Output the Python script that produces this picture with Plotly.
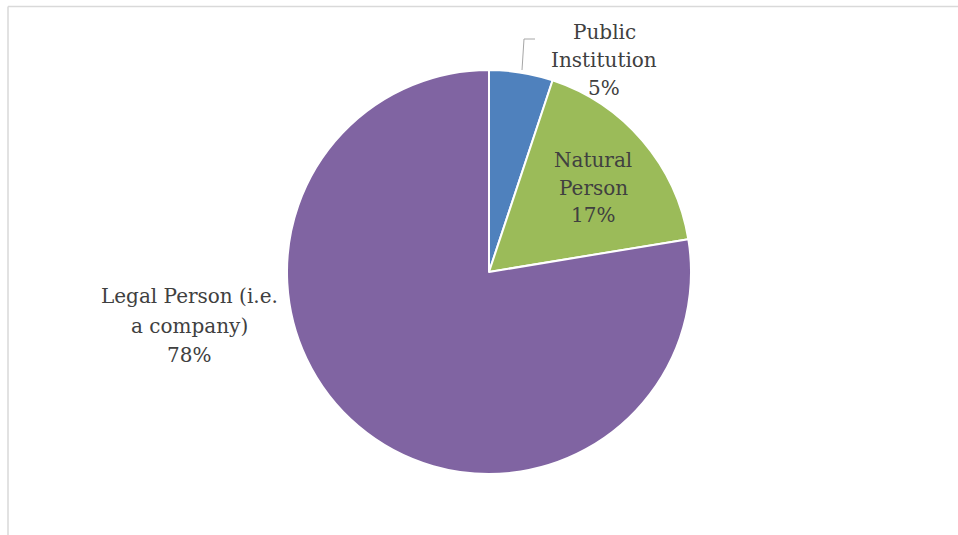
import plotly.graph_objects as go

# Data
categories = ["Public Institution", "Natural Person", "Legal Person (i.e. a company)"]
shares = [5.1, 17.3, 77.6]
label_lines = [["Public", "Institution"], ["Natural", "Person"], ["Legal Person (i.e.", "a company)"]]
colors = ["#4F81BD", "#9BBB59", "#8064A2"]

W, H = 958, 535
cx, cy, r = 489, 272, 202

fig = go.Figure(go.Pie(
    labels=categories,
    values=shares,
    sort=False,
    direction="clockwise",
    rotation=0,
    textinfo="none",
    hoverinfo="label+percent",
    marker=dict(colors=colors, line=dict(color="white", width=2)),
    domain=dict(x=[(cx - r) / W, (cx + r) / W], y=[1 - (cy + r) / H, 1 - (cy - r) / H]),
    showlegend=False,
))

total = sum(shares)
# label anchor positions (pixels, centre of first line) and line spacing
anchors = [(604, 32), (593, 160), (189, 296)]
spacing = [28, 27.5, 29.5]
annotations = []
for i, (lines, val) in enumerate(zip(label_lines, shares)):
    ax, ay = anchors[i]
    full = lines + [f"{round(val / total * 100)}%"]
    for j, t in enumerate(full):
        y = ay + j * spacing[i]
        annotations.append(dict(
            x=ax / W, y=1 - y / H, xref="paper", yref="paper",
            text=t, showarrow=False, xanchor="center", yanchor="middle",
            font=dict(family="DejaVu Serif", size=20, color="#404040"),
        ))

shapes = [
    # chart border (cropped)
    dict(type="line", xref="paper", yref="paper", x0=8 / W, x1=1.0, y0=1 - 6.5 / H, y1=1 - 6.5 / H,
         line=dict(color="#D9D9D9", width=1.5)),
    dict(type="line", xref="paper", yref="paper", x0=8 / W, x1=8 / W, y0=1 - 6.5 / H, y1=0,
         line=dict(color="#D9D9D9", width=1.5)),
    # leader line for Public Institution
    dict(type="path", xref="paper", yref="paper",
         path=f"M {522 / W},{1 - 70 / H} L {524 / W},{1 - 39 / H} L {535 / W},{1 - 39 / H}",
         line=dict(color="#A6A6A6", width=1)),
]

fig.update_layout(
    width=W, height=H,
    margin=dict(l=0, r=0, t=0, b=0),
    paper_bgcolor="white", plot_bgcolor="white",
    annotations=annotations,
    shapes=shapes,
)

fig.write_html(
    "out.html",
    config={"displayModeBar": False},
    post_script="document.body.style.margin='0';document.body.style.overflow='hidden';",
)
